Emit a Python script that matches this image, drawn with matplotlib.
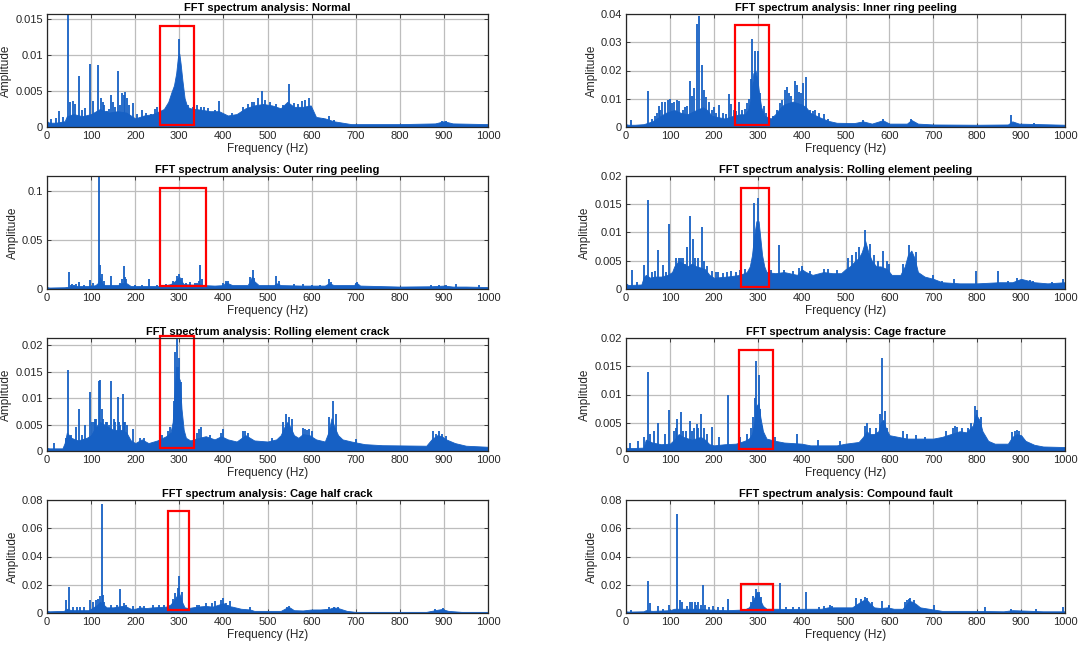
import matplotlib
matplotlib.use('Agg')
import matplotlib.pyplot as plt
from matplotlib.patches import Rectangle
from matplotlib.ticker import FuncFormatter

# ---- data (Hz, amplitude) ----
titles = ['Normal', 'Inner ring peeling', 'Outer ring peeling', 'Rolling element peeling',
          'Rolling element crack', 'Cage fracture', 'Cage half crack', 'Compound fault']

freq_ticks = [0, 100, 200, 300, 400, 500, 600, 700, 800, 900, 1000]

# Normal
normal_base_f = [0, 5, 20, 40, 45, 60, 80, 100, 120, 140, 160, 180, 200, 220, 240, 255, 265, 275, 282,
                 288, 293, 297, 300, 303, 307, 312, 318, 325, 335, 350, 370, 390, 410, 430, 450, 470,
                 490, 510, 530, 545, 560, 580, 598, 610, 630, 650, 670, 690, 720, 800, 880, 900, 920, 1000]
normal_base_a = [0.0008, 0.0006, 0.0006, 0.0008, 0.0015, 0.0018, 0.0015, 0.0018, 0.0025, 0.002, 0.0022,
                 0.002, 0.0012, 0.0016, 0.0018, 0.0022, 0.0025, 0.0035, 0.0048, 0.0058, 0.0075, 0.0098,
                 0.0102, 0.0088, 0.0065, 0.004, 0.0028, 0.0026, 0.0025, 0.0024, 0.0022, 0.0022, 0.0016,
                 0.0018, 0.0026, 0.003, 0.0032, 0.003, 0.0026, 0.0035, 0.0028, 0.0028, 0.003, 0.0014,
                 0.0012, 0.0008, 0.0006, 0.0004, 0.0004, 0.0004, 0.0005, 0.0008, 0.0005, 0.0004]
normal_peak_f = [0, 10, 20, 27, 37, 48, 52, 58, 64, 73, 80, 86, 98, 105, 116, 122, 128, 135, 145, 150,
                 161, 170, 178, 186, 195, 215, 250, 300, 340, 355, 390, 465, 478, 487, 548, 585, 595, 640,
                 130, 140, 155, 165, 175, 182, 205, 225, 235, 245, 320, 330, 350, 365, 380, 420, 445, 455,
                 470, 495, 505, 520, 535, 560, 570, 578, 605, 625, 650, 895, 905]
normal_peak_a = [0.0078, 0.0011, 0.0013, 0.0022, 0.0014, 0.0157, 0.0035, 0.0036, 0.0032, 0.0071, 0.0024,
                 0.0026, 0.0087, 0.0036, 0.0086, 0.004, 0.0035, 0.0022, 0.0044, 0.0035, 0.0078, 0.0047,
                 0.0048, 0.003, 0.0034, 0.0023, 0.0028, 0.0122, 0.003, 0.0028, 0.0036, 0.0035, 0.004,
                 0.005, 0.006, 0.0038, 0.004, 0.0015,
                 0.003, 0.0025, 0.0028, 0.003, 0.0045, 0.004, 0.0018, 0.002, 0.0018, 0.0025, 0.003,
                 0.0028, 0.0028, 0.0026, 0.0024, 0.002, 0.0028, 0.0032, 0.0035, 0.0038, 0.0035, 0.0032,
                 0.003, 0.0034, 0.0032, 0.0036, 0.0018, 0.0013, 0.001, 0.0009, 0.0009]

# Inner ring peeling
inner_base_f = [0, 5, 20, 40, 60, 75, 90, 110, 125, 140, 160, 175, 185, 195, 210, 225, 245, 260, 270,
                278, 283, 287, 290, 295, 300, 304, 308, 315, 330, 340, 350, 360, 370, 380, 390, 400, 410,
                420, 440, 460, 480, 520, 540, 560, 585, 600, 640, 650, 665, 700, 800, 870, 880, 895, 1000]
inner_base_a = [0.001, 0.0008, 0.0008, 0.001, 0.002, 0.0035, 0.005, 0.006, 0.005, 0.0045, 0.006, 0.007,
                0.006, 0.004, 0.0035, 0.003, 0.004, 0.0045, 0.0045, 0.006, 0.009, 0.014, 0.019, 0.02,
                0.016, 0.011, 0.007, 0.004, 0.003, 0.0045, 0.0065, 0.008, 0.0085, 0.009, 0.0085, 0.008,
                0.007, 0.005, 0.0035, 0.0022, 0.0015, 0.0014, 0.002, 0.0012, 0.0024, 0.0012, 0.0012,
                0.0025, 0.0012, 0.0009, 0.0008, 0.0009, 0.002, 0.0012, 0.0008]
inner_peak_f = [0, 12, 49, 83, 88, 95, 100, 110, 117, 121, 146, 155, 161, 167, 172, 177, 183, 190, 200,
                212, 228, 235, 240, 257, 280, 285, 288, 294, 300, 305, 315, 350, 356, 362, 366, 372, 384,
                389, 393, 404, 411, 425, 440, 450, 878, 930,
                60, 65, 70, 75, 78, 105, 130, 135, 140, 150, 195, 205, 220, 245, 250, 265, 270, 275, 320,
                335, 345, 375, 398, 418, 430, 460, 540, 585, 650]
inner_peak_a = [0.007, 0.0025, 0.0129, 0.009, 0.009, 0.0095, 0.0098, 0.009, 0.0095, 0.0093, 0.0162,
                0.0138, 0.0363, 0.0393, 0.022, 0.013, 0.0105, 0.009, 0.007, 0.0079, 0.0045, 0.0117, 0.008,
                0.009, 0.01, 0.017, 0.0313, 0.027, 0.027, 0.012, 0.0076, 0.0085, 0.0095, 0.013, 0.0143,
                0.012, 0.0164, 0.015, 0.0123, 0.0155, 0.0176, 0.0055, 0.005, 0.0045, 0.0042, 0.0014,
                0.003, 0.004, 0.005, 0.0075, 0.006, 0.0085, 0.006, 0.007, 0.0075, 0.011, 0.006, 0.005,
                0.005, 0.006, 0.0055, 0.006, 0.0065, 0.0085, 0.005, 0.004, 0.006, 0.011, 0.012, 0.006,
                0.006, 0.003, 0.0025, 0.003, 0.003]

# Outer ring peeling
outer_base_f = [0, 5, 40, 60, 100, 110, 115, 120, 125, 130, 140, 160, 170, 180, 190, 230, 260, 280, 290,
                296, 300, 305, 310, 330, 345, 355, 380, 400, 405, 410, 420, 455, 460, 465, 470, 480, 515,
                520, 530, 580, 630, 640, 650, 695, 703, 710, 800, 870, 900, 920, 950, 1000]
outer_base_a = [0.002, 0.0015, 0.0018, 0.003, 0.003, 0.004, 0.006, 0.012, 0.006, 0.004, 0.004, 0.004,
                0.006, 0.006, 0.003, 0.003, 0.003, 0.005, 0.008, 0.011, 0.0125, 0.008, 0.005, 0.0045,
                0.005, 0.004, 0.0035, 0.004, 0.007, 0.006, 0.004, 0.004, 0.008, 0.013, 0.008, 0.004,
                0.004, 0.006, 0.004, 0.0035, 0.0035, 0.006, 0.004, 0.004, 0.006, 0.0035, 0.0025, 0.0028,
                0.0035, 0.0025, 0.0025, 0.002]
outer_peak_f = [0, 49, 57, 65, 72, 97, 117, 121, 145, 174, 180, 232, 300, 325, 347, 352, 406, 466, 520,
                580, 640, 703, 928, 980,
                55, 62, 85, 105, 125, 130, 165, 170, 178, 200, 215, 250, 270, 285, 295, 305, 315, 335,
                340, 345, 400, 410, 460, 470, 525, 560, 600, 620, 645, 700, 870, 890, 905]
outer_peak_a = [0.0075, 0.017, 0.005, 0.005, 0.0075, 0.009, 0.1158, 0.025, 0.013, 0.024, 0.01, 0.01,
                0.0154, 0.007, 0.025, 0.01, 0.0086, 0.0195, 0.0134, 0.005, 0.01, 0.0075, 0.005, 0.004,
                0.004, 0.004, 0.004, 0.006, 0.015, 0.008, 0.006, 0.01, 0.012, 0.004, 0.0045, 0.004,
                0.005, 0.008, 0.013, 0.011, 0.006, 0.006, 0.006, 0.008, 0.006, 0.008, 0.012, 0.011,
                0.008, 0.005, 0.0045, 0.0045, 0.007, 0.006, 0.0045, 0.0045, 0.004]

# Rolling element peeling
rpeel_base_f = [0, 5, 35, 40, 45, 55, 65, 80, 95, 105, 110, 120, 130, 140, 150, 160, 170, 180, 190, 200,
                230, 260, 275, 282, 287, 292, 297, 302, 306, 310, 315, 320, 340, 360, 390, 400, 410, 425,
                450, 470, 490, 500, 510, 520, 530, 537, 545, 552, 560, 570, 580, 595, 605, 625, 635, 642,
                650, 657, 665, 680, 700, 720, 760, 800, 850, 880, 900, 930, 960, 1000]
rpeel_base_a = [0.001, 0.0007, 0.0008, 0.002, 0.0025, 0.002, 0.0022, 0.0022, 0.0025, 0.003, 0.004, 0.005,
                0.0045, 0.004, 0.0045, 0.004, 0.0038, 0.0035, 0.0025, 0.002, 0.0022, 0.0025, 0.003, 0.004,
                0.006, 0.0095, 0.012, 0.012, 0.009, 0.006, 0.004, 0.003, 0.0028, 0.003, 0.0025, 0.0035,
                0.003, 0.0025, 0.003, 0.0028, 0.0028, 0.0035, 0.004, 0.0048, 0.0055, 0.0065, 0.0085,
                0.0065, 0.005, 0.004, 0.004, 0.0035, 0.0025, 0.0025, 0.004, 0.006, 0.0068, 0.0055, 0.003,
                0.0022, 0.0018, 0.0012, 0.001, 0.001, 0.0012, 0.0012, 0.0018, 0.0012, 0.001, 0.0012]
rpeel_peak_f = [0, 13, 25, 41, 49, 73, 85, 97, 125, 139, 146, 153, 158, 172, 185, 205, 230, 292, 300, 348,
                400, 450, 544, 585, 600, 644, 700, 748, 797, 847, 890, 928, 995,
                60, 65, 90, 115, 120, 130, 135, 165, 178, 195, 210, 220, 240, 250, 260, 270, 330, 360,
                380, 395, 420, 460, 480, 505, 515, 525, 530, 555, 565, 575, 595, 630, 660, 720, 870, 920,
                970]
rpeel_peak_a = [0.0065, 0.0033, 0.0012, 0.0043, 0.0158, 0.0069, 0.0043, 0.0115, 0.0055, 0.0074, 0.0129,
                0.0088, 0.0055, 0.0109, 0.004, 0.003, 0.003, 0.0153, 0.0161, 0.0078, 0.0041, 0.0035,
                0.0104, 0.0068, 0.0045, 0.0077, 0.0025, 0.0017, 0.0031, 0.0031, 0.002, 0.0015, 0.0017,
                0.003, 0.0032, 0.003, 0.0055, 0.0055, 0.0055, 0.0045, 0.0055, 0.005, 0.0032, 0.003,
                0.0028, 0.0032, 0.003, 0.0033, 0.0035, 0.0033, 0.0033, 0.0032, 0.0038, 0.0032, 0.0035,
                0.0033, 0.0055, 0.006, 0.0065, 0.0075, 0.008, 0.006, 0.005, 0.005, 0.0045, 0.0065,
                0.0015, 0.0015, 0.0016, 0.0012]

# Rolling element crack
rcrack_base_f = [0, 5, 35, 40, 45, 55, 70, 90, 100, 110, 120, 130, 140, 150, 160, 170, 180, 190, 200, 215,
                 230, 250, 270, 280, 285, 289, 293, 297, 301, 305, 310, 315, 325, 345, 360, 380, 395, 410,
                 430, 450, 470, 500, 520, 530, 538, 545, 552, 560, 570, 580, 595, 610, 630, 638, 645, 652,
                 660, 670, 690, 720, 760, 860, 872, 885, 895, 905, 925, 950, 1000]
rcrack_base_a = [0.0006, 0.0005, 0.0005, 0.0015, 0.0035, 0.0025, 0.002, 0.0025, 0.003, 0.0045, 0.0055,
                 0.005, 0.0045, 0.004, 0.004, 0.004, 0.0035, 0.002, 0.0015, 0.0022, 0.0015, 0.002, 0.0028,
                 0.0035, 0.0055, 0.011, 0.016, 0.014, 0.0135, 0.008, 0.004, 0.0025, 0.002, 0.0025, 0.0028,
                 0.0022, 0.0028, 0.0022, 0.0018, 0.003, 0.002, 0.0018, 0.0022, 0.003, 0.0045, 0.0055,
                 0.0045, 0.003, 0.0025, 0.0032, 0.003, 0.0022, 0.0018, 0.0035, 0.0062, 0.0045, 0.003,
                 0.0022, 0.0018, 0.0013, 0.0011, 0.001, 0.0022, 0.003, 0.0028, 0.0022, 0.0015, 0.001, 0.0008]
rcrack_peak_f = [0, 15, 42, 48, 55, 65, 73, 80, 87, 98, 106, 112, 117, 121, 125, 137, 146, 152, 160, 166,
                 172, 178, 195, 291, 294, 300, 350, 400, 450, 542, 580, 590, 600, 648, 876, 890,
                 103, 108, 128, 133, 141, 155, 163, 175, 182, 210, 220, 260, 275, 280, 287, 297, 304, 340,
                 345, 370, 395, 445, 455, 510, 535, 548, 555, 585, 595, 640, 655, 700, 882, 895, 905]
rcrack_peak_a = [0.0071, 0.0015, 0.0025, 0.0154, 0.003, 0.0045, 0.008, 0.003, 0.005, 0.0112, 0.0055,
                 0.006, 0.0133, 0.0135, 0.008, 0.0055, 0.0133, 0.006, 0.0102, 0.005, 0.0108, 0.0055,
                 0.0041, 0.0187, 0.0214, 0.0176, 0.0045, 0.0042, 0.0038, 0.007, 0.0043, 0.004, 0.0038,
                 0.0095, 0.0037, 0.0037,
                 0.0055, 0.006, 0.006, 0.0055, 0.005, 0.0055, 0.0055, 0.0055, 0.005, 0.0025, 0.0025,
                 0.003, 0.0038, 0.0045, 0.0095, 0.016, 0.013, 0.0035, 0.0042, 0.003, 0.0035, 0.0038,
                 0.0035, 0.0025, 0.0055, 0.0065, 0.006, 0.0042, 0.0042, 0.0065, 0.007, 0.0022, 0.0033,
                 0.0033, 0.0028]

# Cage fracture
cfrac_base_f = [0, 5, 40, 45, 60, 80, 100, 110, 120, 130, 150, 170, 180, 190, 200, 225, 250, 270, 280,
                287, 292, 297, 302, 306, 312, 320, 340, 360, 400, 420, 480, 500, 530, 540, 548, 555, 565,
                575, 580, 586, 592, 600, 620, 640, 700, 720, 740, 760, 775, 790, 797, 805, 812, 825, 840,
                870, 880, 890, 900, 910, 930, 950, 1000]
cfrac_base_a = [0.0006, 0.0005, 0.0006, 0.002, 0.0015, 0.0012, 0.0013, 0.002, 0.003, 0.0025, 0.002,
                0.0025, 0.002, 0.0012, 0.001, 0.0012, 0.0013, 0.0018, 0.0022, 0.003, 0.005, 0.008, 0.0085,
                0.006, 0.0035, 0.0022, 0.0018, 0.0015, 0.0013, 0.001, 0.001, 0.0013, 0.0016, 0.0025,
                0.0035, 0.003, 0.003, 0.0035, 0.005, 0.0055, 0.004, 0.0028, 0.0025, 0.0022, 0.0022,
                0.0025, 0.003, 0.0035, 0.0033, 0.0045, 0.0065, 0.0055, 0.0035, 0.0018, 0.0013, 0.0013,
                0.0025, 0.003, 0.0028, 0.0018, 0.0011, 0.0008, 0.0007]
cfrac_peak_f = [0, 10, 27, 42, 49, 55, 63, 72, 88, 97, 110, 117, 125, 137, 145, 162, 170, 178, 195, 212,
                232, 285, 293, 296, 302, 306, 390, 437, 487, 548, 583, 630, 750, 780, 796, 880, 890,
                115, 130, 150, 155, 165, 185, 260, 275, 290, 310, 340, 545, 555, 570, 578, 590, 595, 640,
                660, 680, 730, 745, 755, 765, 785, 800, 808, 885, 895]
cfrac_peak_a = [0.008, 0.0015, 0.0018, 0.0025, 0.0139, 0.003, 0.0035, 0.0049, 0.003, 0.0072, 0.0035,
                0.0056, 0.0069, 0.0035, 0.0053, 0.0048, 0.0065, 0.004, 0.0043, 0.0025, 0.01, 0.004,
                0.0093, 0.0159, 0.0135, 0.0075, 0.003, 0.002, 0.0018, 0.005, 0.0164, 0.0035, 0.0044,
                0.004, 0.008, 0.0033, 0.0038,
                0.004, 0.0035, 0.0035, 0.004, 0.004, 0.003, 0.0025, 0.003, 0.006, 0.0045, 0.0025,
                0.0045, 0.004, 0.004, 0.0065, 0.007, 0.004, 0.003, 0.0028, 0.0025, 0.0035, 0.004,
                0.0042, 0.004, 0.005, 0.0072, 0.006, 0.0035, 0.0035]

# Cage half crack
chalf_base_f = [0, 5, 38, 45, 55, 95, 105, 115, 120, 128, 135, 150, 160, 170, 180, 190, 200, 210, 225,
                240, 270, 280, 288, 294, 298, 302, 306, 312, 320, 340, 360, 375, 390, 400, 410, 420, 440,
                460, 470, 530, 542, 550, 560, 580, 600, 620, 640, 650, 660, 680, 700, 860, 880, 895, 910,
                940, 1000]
chalf_base_a = [0.0015, 0.0012, 0.0015, 0.003, 0.002, 0.002, 0.004, 0.006, 0.008, 0.006, 0.004, 0.004,
                0.0045, 0.005, 0.0045, 0.003, 0.003, 0.004, 0.0035, 0.004, 0.0045, 0.006, 0.009, 0.012,
                0.015, 0.012, 0.008, 0.004, 0.0035, 0.0045, 0.005, 0.0045, 0.006, 0.007, 0.005, 0.0045,
                0.003, 0.0025, 0.0015, 0.0015, 0.0035, 0.004, 0.002, 0.0018, 0.0025, 0.0025, 0.003, 0.004,
                0.0035, 0.0015, 0.0008, 0.0008, 0.002, 0.0028, 0.0015, 0.0008, 0.0008]
chalf_peak_f = [0, 42, 49, 60, 68, 75, 85, 98, 110, 120, 124, 128, 158, 166, 180, 210, 255, 296, 300, 345,
                382, 395, 398, 415, 460, 548, 650, 880, 898,
                105, 115, 130, 145, 175, 195, 220, 240, 265, 285, 290, 305, 340, 360, 375, 405, 410, 545,
                640, 660]
chalf_peak_a = [0.0083, 0.0093, 0.0186, 0.0045, 0.0045, 0.004, 0.0045, 0.009, 0.009, 0.012, 0.0771,
                0.013, 0.006, 0.0169, 0.0057, 0.005, 0.006, 0.018, 0.0264, 0.006, 0.0085, 0.009, 0.0105,
                0.0085, 0.004, 0.005, 0.0045, 0.0025, 0.0035,
                0.008, 0.01, 0.008, 0.006, 0.007, 0.005, 0.005, 0.006, 0.006, 0.01, 0.014, 0.015, 0.006,
                0.007, 0.007, 0.007, 0.006, 0.004, 0.004, 0.0045]

# Compound fault
comp_base_f = [0, 5, 40, 45, 60, 100, 110, 130, 170, 185, 230, 270, 280, 288, 294, 298, 302, 306, 312,
               320, 345, 370, 400, 420, 445, 460, 480, 515, 525, 532, 540, 548, 555, 565, 580, 595, 610,
               630, 638, 645, 652, 660, 670, 700, 720, 800, 860, 880, 900, 950, 1000]
comp_base_a = [0.0012, 0.001, 0.0012, 0.002, 0.0015, 0.002, 0.003, 0.003, 0.003, 0.0025, 0.002, 0.0025,
               0.004, 0.008, 0.012, 0.015, 0.013, 0.009, 0.005, 0.003, 0.003, 0.0028, 0.003, 0.003, 0.003,
               0.004, 0.004, 0.004, 0.006, 0.0075, 0.009, 0.0095, 0.007, 0.004, 0.0035, 0.004, 0.003,
               0.003, 0.006, 0.0085, 0.008, 0.0065, 0.004, 0.0025, 0.0015, 0.0015, 0.0012, 0.002, 0.0018,
               0.0012, 0.0012]
comp_peak_f = [0, 12, 49, 55, 72, 85, 97, 117, 122, 127, 145, 150, 157, 165, 175, 180, 198, 233, 296, 350,
               409, 450, 465, 525, 545, 583, 598, 640, 648, 702, 818, 878, 935, 995,
               140, 160, 170, 190, 210, 220, 285, 290, 302, 307, 365, 380, 395, 440, 470, 535, 550, 560,
               600, 635, 645, 655]
comp_peak_a = [0.005, 0.002, 0.0229, 0.0071, 0.005, 0.003, 0.006, 0.07, 0.009, 0.008, 0.008, 0.008, 0.008,
               0.008, 0.0195, 0.006, 0.005, 0.01, 0.0171, 0.021, 0.0148, 0.005, 0.006, 0.0105, 0.011,
               0.0088, 0.006, 0.0095, 0.0105, 0.006, 0.004, 0.003, 0.0025, 0.004,
               0.005, 0.006, 0.006, 0.004, 0.004, 0.004, 0.008, 0.012, 0.015, 0.011, 0.004, 0.004,
               0.004, 0.004, 0.005, 0.01, 0.0105, 0.008, 0.005, 0.008, 0.0098, 0.009]

# y axis limits / ticks per panel
y_tops = [0.0157, 0.04, 0.1158, 0.02, 0.0214, 0.02, 0.08, 0.08]
y_ticks = [[0, 0.005, 0.01, 0.015], [0, 0.01, 0.02, 0.03, 0.04], [0, 0.05, 0.1],
           [0, 0.005, 0.01, 0.015, 0.02], [0, 0.005, 0.01, 0.015, 0.02],
           [0, 0.005, 0.01, 0.015, 0.02], [0, 0.02, 0.04, 0.06, 0.08], [0, 0.02, 0.04, 0.06, 0.08]]

# highlighted band (f0, f1, a0, a1)
boxes = [(256, 333, 0.0003, 0.0141), (249, 326, 0.0007, 0.036), (256, 361, 0.0027, 0.1038),
         (262, 325, 0.0003, 0.0178), (256, 333, 0.0005, 0.0217), (258, 334, 0.0004, 0.0179),
         (275, 322, 0.0019, 0.0721), (262, 335, 0.0021, 0.0207)]

spectra = [
    (normal_base_f, normal_base_a, normal_peak_f, normal_peak_a),
    (inner_base_f, inner_base_a, inner_peak_f, inner_peak_a),
    (outer_base_f, outer_base_a, outer_peak_f, outer_peak_a),
    (rpeel_base_f, rpeel_base_a, rpeel_peak_f, rpeel_peak_a),
    (rcrack_base_f, rcrack_base_a, rcrack_peak_f, rcrack_peak_a),
    (cfrac_base_f, cfrac_base_a, cfrac_peak_f, cfrac_peak_a),
    (chalf_base_f, chalf_base_a, chalf_peak_f, chalf_peak_a),
    (comp_base_f, comp_base_a, comp_peak_f, comp_peak_a),
]

plt.rcParams['font.family'] = ['Liberation Sans', 'DejaVu Sans']

blue = '#1660C4'
ink = '#262626'
W, H = 1080, 645

fig = plt.figure(figsize=(10.8, 6.45), dpi=100)

col_x = [(47, 441), (626, 439)]
row_top = [14, 176, 338, 500]
ax_h = 113

for i, title in enumerate(titles):
    r, c = divmod(i, 2)
    x0, w = col_x[c]
    top = row_top[r]
    ax = fig.add_axes([x0 / W, 1 - (top + ax_h) / H, w / W, ax_h / H])

    bf, ba, pf, pa = spectra[i]
    ax.fill_between(bf, 0, ba, color=blue, linewidth=0.6, zorder=2)
    ax.vlines(pf, 0, pa, color=blue, linewidth=1.3, zorder=2)

    f0, f1, a0, a1 = boxes[i]
    ax.add_patch(Rectangle((f0, a0), f1 - f0, a1 - a0, fill=False, edgecolor='#FF0000',
                           linewidth=1.6, zorder=4, clip_on=False))

    ax.set_xlim(0, 1000)
    ax.set_ylim(0, y_tops[i])
    ax.set_xticks(freq_ticks)
    ax.set_yticks(y_ticks[i])
    ax.yaxis.set_major_formatter(FuncFormatter(lambda v, p: '%g' % v))
    ax.grid(True, color='#bdbdbd', linewidth=0.9, zorder=0)
    ax.set_axisbelow(True)
    ax.tick_params(direction='in', length=3, width=0.6, top=True, right=True,
                   labelsize=8, colors=ink, pad=3)
    for s in ax.spines.values():
        s.set_color(ink)
        s.set_linewidth(0.9)
        s.set_zorder(5)
    ax.set_title('FFT spectrum analysis: ' + title, fontsize=8, fontweight='bold', pad=2.5)
    ax.set_xlabel('Frequency (Hz)', fontsize=8.5, color=ink, labelpad=1)
    ax.set_ylabel('Amplitude', fontsize=8.5, color=ink, labelpad=2)

fig.savefig('out.png', dpi=100, facecolor='white')
